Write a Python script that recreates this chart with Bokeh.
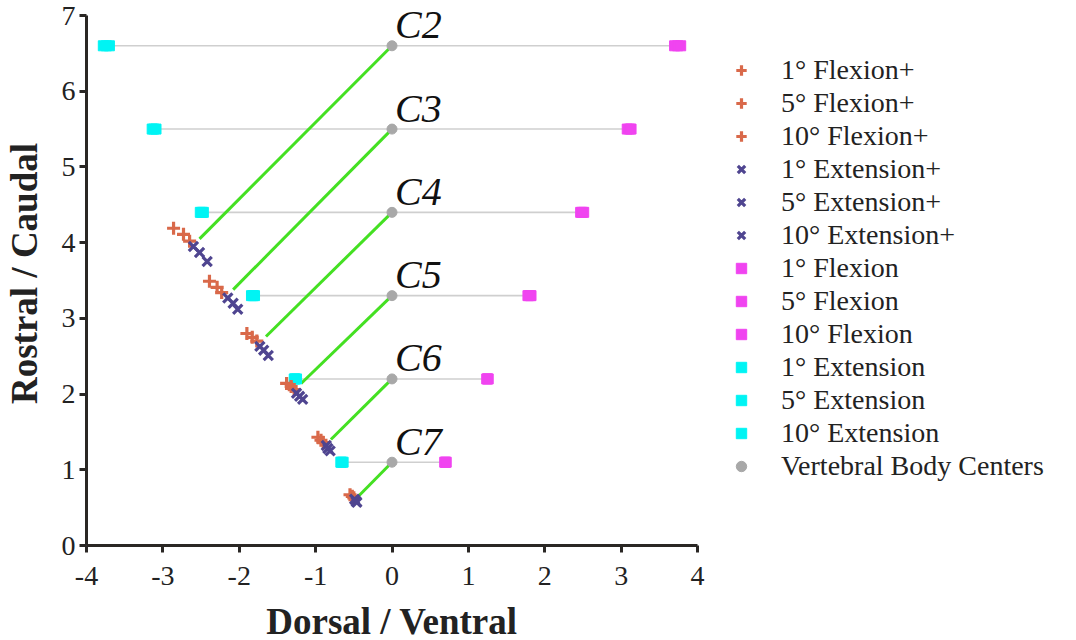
from bokeh.plotting import figure
from bokeh.models import Range1d, Legend, LegendItem, ColumnDataSource, FixedTicker
from bokeh.core.properties import value
from bokeh.embed import file_html
from bokeh.resources import INLINE

# ---------------- data ----------------
levels = ["C2", "C3", "C4", "C5", "C6", "C7"]
center_x = [0, 0, 0, 0, 0, 0]
center_y = [6.6, 5.5, 4.4, 3.3, 2.2, 1.1]

# rotated vertebral body centre end-points (green lines)
green_end_x = [-2.52, -2.08, -1.65, -1.19, -0.80, -0.43]
green_end_y = [4.05, 3.38, 2.76, 2.14, 1.40, 0.66]

# Flexion+ (orange plus)
flexp_1_x = [-2.65, -2.23, -1.77, -1.28, -0.90, -0.50]
flexp_1_y = [4.02, 3.34, 2.70, 2.06, 1.36, 0.63]
flexp_5_x = [-2.73, -2.29, -1.83, -1.32, -0.93, -0.52]
flexp_5_y = [4.11, 3.41, 2.75, 2.10, 1.39, 0.65]
flexp_10_x = [-2.86, -2.39, -1.90, -1.38, -0.97, -0.55]
flexp_10_y = [4.19, 3.49, 2.80, 2.14, 1.43, 0.67]

# Extension+ (purple x)
extp_1_x = [-2.60, -2.15, -1.73, -1.25, -0.86, -0.49]
extp_1_y = [3.95, 3.27, 2.63, 2.01, 1.32, 0.61]
extp_5_x = [-2.52, -2.08, -1.68, -1.21, -0.84, -0.47]
extp_5_y = [3.87, 3.20, 2.58, 1.97, 1.28, 0.58]
extp_10_x = [-2.42, -2.02, -1.62, -1.17, -0.81, -0.46]
extp_10_y = [3.75, 3.12, 2.51, 1.93, 1.25, 0.57]

# Flexion (magenta) and Extension (cyan)
flex_1_x = [3.70, 3.08, 2.47, 1.78, 1.24, 0.69]
flex_5_x = [3.74, 3.11, 2.49, 1.80, 1.25, 0.70]
flex_10_x = [3.78, 3.13, 2.51, 1.82, 1.26, 0.71]
ext_1_x = [-3.70, -3.09, -2.47, -1.80, -1.25, -0.64]
ext_5_x = [-3.74, -3.12, -2.49, -1.82, -1.27, -0.66]
ext_10_x = [-3.78, -3.14, -2.51, -1.84, -1.28, -0.67]

x_ticks = [-4, -3, -2, -1, 0, 1, 2, 3, 4]
y_ticks = [0, 1, 2, 3, 4, 5, 6, 7]

# ---------------- styling ----------------
FONT = "Liberation Serif"
ORANGE = "#d9694a"
PURPLE = "#4f4590"
MAGENTA = "#f044f0"
CYAN = "#00f4f4"
GRAY = "#a8a8a8"
GREEN = "#44e022"
AXIS = "#2a2724"

PX_PER_Y = 530 / 7.0
Y_TOP = 7 + 14 / PX_PER_Y   # a little room above 7 for the C2 label

p = figure(frame_width=611, frame_height=544,
           x_range=Range1d(-4, 4), y_range=Range1d(0, Y_TOP),
           output_backend="svg", toolbar_location=None,
           min_border_left=86, min_border_top=1, min_border_bottom=95,
           min_border_right=379)
p.outline_line_color = None
p.grid.visible = False
p.background_fill_color = "white"

for ax in (p.xaxis[0], p.yaxis[0]):
    ax.axis_line_width = 3
    ax.axis_line_color = AXIS
    ax.major_tick_line_width = 3
    ax.major_tick_line_color = AXIS
    ax.major_tick_out = 7
    ax.major_tick_in = 0
    ax.minor_tick_line_color = None
    ax.major_label_text_font = FONT
    ax.major_label_text_font_size = "28px"
    ax.major_label_text_color = "#222222"
    ax.axis_label_text_font = FONT
    ax.axis_label_text_font_size = "37px"
    ax.axis_label_text_font_style = "bold"
    ax.axis_label_text_color = "#222222"

p.xaxis.ticker = FixedTicker(ticks=x_ticks)
p.yaxis.ticker = FixedTicker(ticks=y_ticks)
p.xaxis.major_label_overrides = {t: str(t) for t in x_ticks}
p.yaxis.major_label_overrides = {t: str(t) for t in y_ticks}
p.yaxis.bounds = (0, 7)
p.xaxis.axis_label = "Dorsal / Ventral"
p.yaxis.axis_label = "Rostral / Caudal"
p.xaxis.major_label_standoff = 14
p.yaxis.major_label_standoff = 4
p.xaxis.axis_label_standoff = 13
p.yaxis.axis_label_standoff = 14

# gray horizontal lines from extension to flexion
p.segment(x0=ext_10_x, y0=center_y, x1=flex_10_x, y1=center_y,
          line_color="#cfcfcf", line_width=1.6)
# green lines from centre to rotated position
p.segment(x0=center_x, y0=center_y, x1=green_end_x, y1=green_end_y,
          line_color=GREEN, line_width=3)

items = []

def sc(xs, ys, marker, color, size, lw=None, fill=True):
    kw = dict(x=xs, y=ys, marker=marker, size=size)
    if fill:
        kw.update(fill_color=color, line_color=color, line_width=1)
    else:
        kw.update(line_color=color, line_width=lw, fill_color=None)
    return p.scatter(**kw)

r_flex = [sc(fx, center_y, "square", MAGENTA, 10) for fx in (flex_1_x, flex_5_x, flex_10_x)]
r_ext = [sc(ex, center_y, "square", CYAN, 10) for ex in (ext_1_x, ext_5_x, ext_10_x)]
r_center = sc(center_x, center_y, "circle", GRAY, 10)
r_flexp = [sc(x, y, "cross", ORANGE, 13, lw=3.2, fill=False)
           for x, y in ((flexp_1_x, flexp_1_y), (flexp_5_x, flexp_5_y), (flexp_10_x, flexp_10_y))]
r_extp = [sc(x, y, "x", PURPLE, 13, lw=3.2, fill=False)
          for x, y in ((extp_1_x, extp_1_y), (extp_5_x, extp_5_y), (extp_10_x, extp_10_y))]

# level labels
src = ColumnDataSource(dict(x=[cx + 0.04 for cx in center_x],
                            y=[cy - 0.02 for cy in center_y], t=levels))
p.text(x="x", y="y", text="t", source=src, text_font=value(FONT),
       text_font_style="italic", text_font_size="40px", text_baseline="bottom",
       text_align="left", text_color="#111111")

angles = ["1°", "5°", "10°"]
for a, r in zip(angles, r_flexp):
    items.append(LegendItem(label=f"{a} Flexion+", renderers=[r]))
for a, r in zip(angles, r_extp):
    items.append(LegendItem(label=f"{a} Extension+", renderers=[r]))
for a, r in zip(angles, r_flex):
    items.append(LegendItem(label=f"{a} Flexion", renderers=[r]))
for a, r in zip(angles, r_ext):
    items.append(LegendItem(label=f"{a} Extension", renderers=[r]))
items.append(LegendItem(label="Vertebral Body Centers", renderers=[r_center]))

legend = Legend(items=items, location=(31, 63), padding=0, margin=0,
                border_line_color=None, background_fill_alpha=0,
                glyph_width=26, glyph_height=28, label_height=28,
                spacing=1, label_standoff=27,
                label_text_font=FONT, label_text_font_size="28px",
                label_text_color="#222222")
p.add_layout(legend, "right")

open("out.html", "w").write(file_html(p, INLINE))
